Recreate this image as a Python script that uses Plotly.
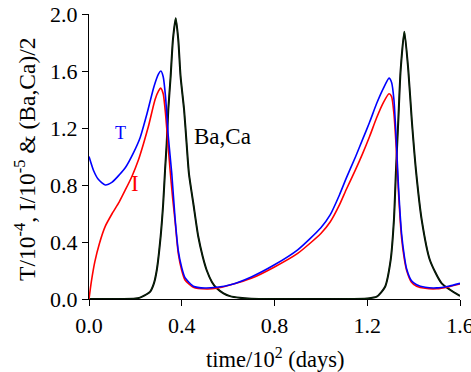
import plotly.graph_objects as go

# T/1e-4 (blue)
t_x = [0.00, 0.02, 0.04, 0.07, 0.10, 0.13, 0.16, 0.19, 0.22, 0.25, 0.28, 0.30, 0.31, 0.32, 0.33,
       0.342, 0.357, 0.371, 0.385, 0.40, 0.414, 0.45, 0.50, 0.55, 0.61, 0.70, 0.80, 0.90, 1.00,
       1.04, 1.08, 1.11, 1.15, 1.18, 1.21, 1.24, 1.27, 1.294, 1.305, 1.315, 1.325, 1.335, 1.348, 1.36,
       1.37, 1.39, 1.413, 1.45, 1.50, 1.55, 1.60]
t_y = [1.00, 0.90, 0.84, 0.80, 0.82, 0.87, 0.93, 1.02, 1.13, 1.30, 1.49, 1.58, 1.60, 1.56, 1.42,
       1.14, 0.88, 0.57, 0.34, 0.22, 0.15, 0.09, 0.077, 0.082, 0.10, 0.155, 0.24, 0.345, 0.50,
       0.59, 0.73, 0.85, 1.00, 1.12, 1.24, 1.37, 1.48, 1.55, 1.52, 1.40, 1.12, 0.78, 0.46, 0.30,
       0.21, 0.13, 0.10, 0.082, 0.078, 0.09, 0.11]

# I/1e-5 (red)
i_x = [0.00, 0.01, 0.025, 0.045, 0.07, 0.10, 0.13, 0.155, 0.185, 0.213, 0.235, 0.256, 0.285, 0.30,
       0.309, 0.32, 0.33, 0.34, 0.35, 0.36, 0.371, 0.385, 0.40, 0.414, 0.45, 0.508, 0.55, 0.608,
       0.70, 0.80, 0.90, 1.00, 1.04, 1.08, 1.11, 1.15, 1.18, 1.21, 1.24, 1.27, 1.294, 1.305, 1.315, 1.325,
       1.335, 1.348, 1.36, 1.37, 1.39, 1.413, 1.45, 1.50, 1.55, 1.60]
i_y = [0.00, 0.12, 0.26, 0.39, 0.51, 0.60, 0.68, 0.76, 0.86, 0.975, 1.09, 1.21, 1.40, 1.46,
       1.48, 1.44, 1.30, 1.10, 0.90, 0.72, 0.55, 0.32, 0.20, 0.133, 0.082, 0.07, 0.075, 0.098,
       0.145, 0.225, 0.32, 0.46, 0.54, 0.66, 0.77, 0.91, 1.02, 1.14, 1.27, 1.38, 1.44, 1.42, 1.30, 1.06,
       0.74, 0.43, 0.28, 0.20, 0.12, 0.09, 0.075, 0.072, 0.085, 0.105]

# (Ba,Ca)/2 (black)
b_x = [0.00, 0.15, 0.20, 0.22, 0.24, 0.263, 0.28, 0.292, 0.309, 0.32, 0.328, 0.335, 0.342, 0.352,
       0.362, 0.374, 0.385, 0.395, 0.41, 0.421, 0.431, 0.45, 0.471, 0.49, 0.508, 0.53, 0.551, 0.58,
       0.608, 0.65, 0.70, 0.80, 1.10, 1.20, 1.241, 1.277, 1.301, 1.315, 1.324, 1.334, 1.344, 1.36,
       1.377, 1.392, 1.41, 1.435, 1.47, 1.521, 1.60]
b_y = [0.00, 0.00, 0.003, 0.01, 0.025, 0.05, 0.11, 0.20, 0.44, 0.67, 0.905, 1.09, 1.33, 1.56,
       1.82, 1.97, 1.82, 1.56, 1.33, 1.09, 0.88, 0.67, 0.44, 0.30, 0.20, 0.12, 0.075, 0.04,
       0.02, 0.008, 0.002, 0.0, 0.0, 0.004, 0.016, 0.086, 0.274, 0.554, 0.905, 1.256, 1.607, 1.876,
       1.607, 1.256, 0.905, 0.554, 0.274, 0.11, 0.021]

x_ticks = [0.0, 0.4, 0.8, 1.2, 1.6]
y_ticks = [0.0, 0.4, 0.8, 1.2, 1.6, 2.0]

FONT = "Liberation Serif"
SM = 0.6

fig = go.Figure()
fig.add_trace(go.Scatter(x=b_x, y=b_y, mode="lines", line=dict(color="black", width=2.0, shape="spline", smoothing=SM), hoverinfo="skip"))
fig.add_trace(go.Scatter(x=b_x, y=b_y, mode="lines", line=dict(color="#0d3d0d", width=0.7, shape="spline", smoothing=SM), hoverinfo="skip"))
fig.add_trace(go.Scatter(x=i_x, y=i_y, mode="lines", line=dict(color="red", width=1.6, shape="spline", smoothing=SM)))
fig.add_trace(go.Scatter(x=t_x, y=t_y, mode="lines", line=dict(color="blue", width=1.6, shape="spline", smoothing=SM)))

fig.add_annotation(x=0.134, y=1.165, text="T", showarrow=False, font=dict(color="blue", size=18, family=FONT))
fig.add_annotation(x=0.198, y=0.814, text="I", showarrow=False, font=dict(color="red", size=23, family=FONT))
fig.add_annotation(x=0.574, y=1.137, text="Ba,Ca", showarrow=False, font=dict(color="black", size=23, family=FONT))

# axis titles as annotations (paper coordinates)
fig.add_annotation(xref="paper", yref="paper", x=0.5, y=-0.207, yanchor="middle",
                   text="time/10<sup>2</sup> (days)", showarrow=False,
                   font=dict(size=22.5, family=FONT, color="black"))
fig.add_annotation(xref="paper", yref="paper", x=-0.1725, y=0.488, xanchor="center", yanchor="middle",
                   textangle=-90, text="T/10<sup>-4</sup>, I/10<sup>-5</sup> &amp; (Ba,Ca)/2", showarrow=False,
                   font=dict(size=23.5, family=FONT, color="black"))

axis_common = dict(showline=True, linecolor="black", linewidth=1.2, ticks="outside", ticklen=6,
                   tickwidth=1.2, tickcolor="black", showgrid=False, zeroline=False,
                   tickformat=".1f", ticklabeloverflow="allow", automargin=False,
                   tickfont=dict(size=22, family=FONT, color="black"))

fig.update_layout(
    width=471, height=372,
    margin=dict(l=89, r=11, t=14, b=73, autoexpand=False),
    plot_bgcolor="white", paper_bgcolor="white",
    showlegend=False,
    font=dict(family=FONT, color="black"),
    xaxis=dict(range=[0, 1.6], tickvals=x_ticks, **axis_common),
    yaxis=dict(range=[0, 2.0], tickvals=y_ticks, **axis_common),
)

fig.write_html("out.html")
